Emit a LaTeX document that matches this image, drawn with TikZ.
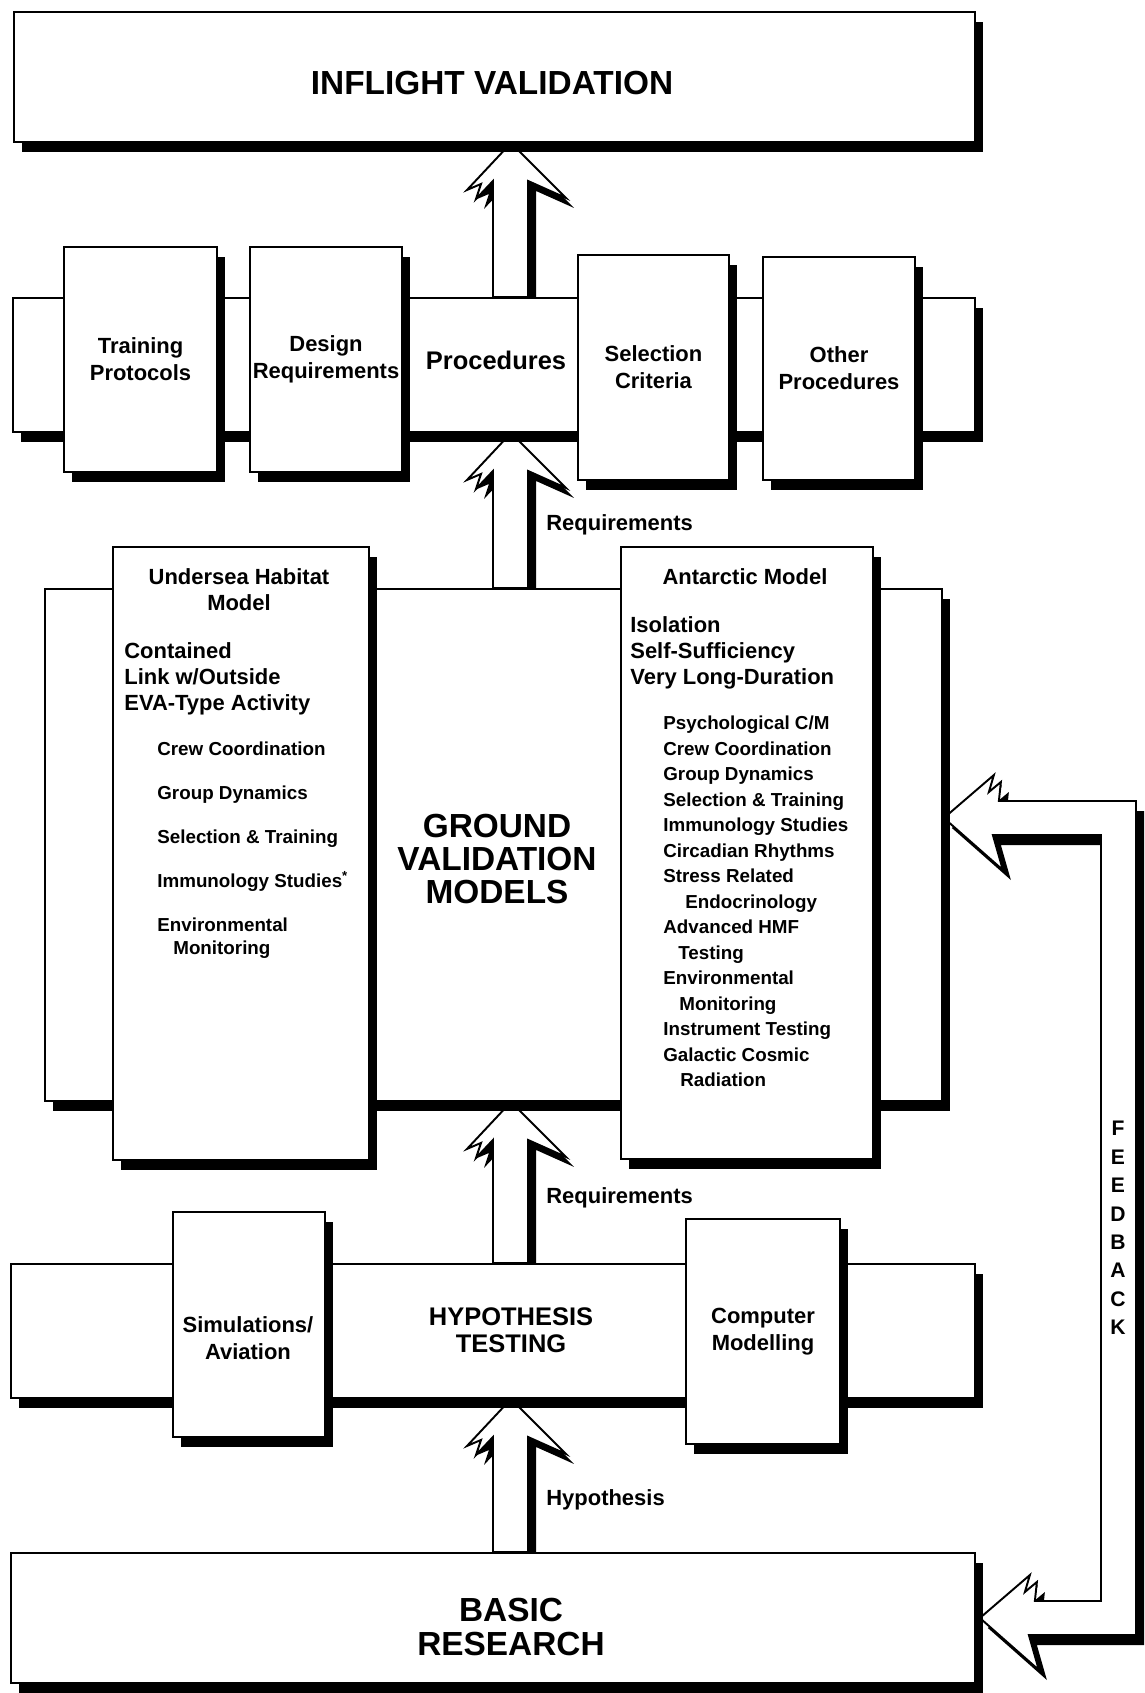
\documentclass[tikz,border=0pt]{standalone}
\usepackage{fontspec}
\setmainfont{Liberation Sans}
\usetikzlibrary{calc,shadows}

\pgfdeclarelayer{background}
\pgfsetlayers{background,main}

% hollow up-arrow: #1 = tip, #2 = lower left corner of the shaft
\newcommand{\fatup}[2]{%
  \draw[fatarrow] (#1) -- ++(55,55) -- ++(-38,-17) -- ($(#2)+(35,0)$) -- (#2)
    -- ($(#1)+(-18,38)$) -- ++(-17,18) -- ++(5,-15) -- ++(-14,6) -- cycle;}

\begin{document}
\begin{tikzpicture}[x=0.02cm, y=-0.02cm,
    blackshadow/.style={drop shadow={shadow xshift=0.16cm, shadow yshift=-0.2cm, fill=black, opacity=1}},
    box/.style={draw, fill=white, line width=1.1pt, inner sep=0pt, align=center, blackshadow,
      font={\fontsize{12.5}{15.4}\selectfont\bfseries}},
    fatarrow/.style={draw, fill=white, line width=1.1pt, line join=miter, blackshadow},
    txt/.style={inner sep=0pt, align=left, font={\fontsize{12.5}{14.8}\selectfont\bfseries}},
    smalltxt/.style={inner sep=0pt, align=left, font={\fontsize{10.7}{14.5}\selectfont\bfseries}},
    bigtxt/.style={inner sep=0pt, align=center, font={\fontsize{19}{19}\selectfont\bfseries}}]
    \useasboundingbox (0,0) rectangle (1145,1693);

    % top
    \node[box, minimum width=19.22cm, minimum height=2.6cm] (inflight) at (494.5,77) {};
    \node[bigtxt] (inflighttext) at (492,83) {INFLIGHT VALIDATION};

    % procedures row
    \node[box, minimum width=19.24cm, minimum height=2.68cm] (procband) at (494,365) {};
    \node[box, minimum width=3.06cm, minimum height=4.5cm] (training) at (140.5,359.5) {Training\\Protocols};
    \node[box, minimum width=3.04cm, minimum height=4.5cm] (design) at (326,359.5) {Design\\Requirements};
    \node[box, minimum width=3.02cm, minimum height=4.5cm] (selection) at (653.5,367.5) {Selection\\Criteria};
    \node[box, minimum width=3.04cm, minimum height=4.46cm] (other) at (839,368.5) {Other\\Procedures};
    \node[inner sep=0pt, font={\fontsize{14.5}{15.5}\selectfont\bfseries}] (procl) at (496,360) {Procedures};

    % ground validation row
    \node[box, minimum width=17.94cm, minimum height=10.24cm] (groundband) at (493.5,845) {};
    \node[box, minimum width=5.12cm, minimum height=12.26cm] (undersea) at (241,853.5) {};
    \node[box, minimum width=5.04cm, minimum height=12.24cm] (antarctic) at (747,853) {};
    \node[bigtxt] (gvm) at (497,859) {GROUND\\VALIDATION\\MODELS};

    \node[txt, align=center, anchor=north] (ustitle) at (239,568) {Undersea Habitat\\Model};
    \node[txt, anchor=north west] (uslist) at (124,642) {Contained\\Link w/Outside\\EVA-Type Activity};
    \node[smalltxt, anchor=north west, font={\fontsize{10.7}{13.1}\selectfont\bfseries}] (usitems) at (157,742)
      {Crew Coordination\\[11.9pt]Group Dynamics\\[11.9pt]Selection \& Training\\[11.9pt]%
       Immunology Studies\textsuperscript{*}\\[11.9pt]Environmental\\\hspace*{0.32cm}Monitoring};

    \node[txt, align=center, anchor=north] (antitle) at (745,568) {Antarctic Model};
    \node[txt, anchor=north west] (antlist) at (630,616) {Isolation\\Self-Sufficiency\\Very Long-Duration};
    \node[smalltxt, anchor=north west] (antitems) at (663,716)
      {Psychological C/M\\Crew Coordination\\Group Dynamics\\Selection \& Training\\%
       Immunology Studies\\Circadian Rhythms\\Stress Related\\\hspace*{0.44cm}Endocrinology\\%
       Advanced HMF\\\hspace*{0.3cm}Testing\\Environmental\\\hspace*{0.32cm}Monitoring\\%
       Instrument Testing\\Galactic Cosmic\\\hspace*{0.34cm}Radiation};

    % hypothesis row
    \node[box, minimum width=19.28cm, minimum height=2.68cm] (hypband) at (493,1331) {};
    \node[box, minimum width=3.04cm, minimum height=4.5cm] (simulations) at (249,1324.5) {};
    \node[box, minimum width=3.08cm, minimum height=4.5cm] (computer) at (763,1331.5) {Computer\\Modelling};
    \node[inner sep=0pt, align=center, font={\fontsize{12.5}{15.4}\selectfont\bfseries}] (simtext) at (248,1338) {Simulations/\\Aviation};
    \node[inner sep=0pt, align=center, font={\fontsize{14.5}{15.5}\selectfont\bfseries}] (hyptext) at (511,1330) {HYPOTHESIS\\TESTING};

    % bottom
    \node[box, minimum width=19.28cm, minimum height=2.6cm] (basic) at (493,1618) {};
    \node[bigtxt] (basictext) at (511,1627) {BASIC\\RESEARCH};

    % arrow labels
    \node[txt, anchor=west] (reqa) at (546,525) {Requirements};
    \node[txt, anchor=west] (reqb) at (546,1198) {Requirements};
    \node[txt, anchor=west] (hypl) at (546,1500) {Hypothesis};

    \coordinate (tipA) at (511,0 |- inflight.south);
    \coordinate (baseA) at (493,0 |- procband.north);
    \coordinate (tipB) at (511,0 |- procband.south);
    \coordinate (baseB) at (493,0 |- groundband.north);
    \coordinate (tipC) at (511,0 |- groundband.south);
    \coordinate (baseC) at (493,0 |- hypband.north);
    \coordinate (tipD) at (511,0 |- hypband.south);
    \coordinate (baseD) at (493,0 |- basic.north);

    \coordinate (fbtop) at ($(groundband.east)+(1,-27)$);
    \coordinate (fbbot) at ($(basic.east)+(4,0)$);
    \coordinate (fbo) at (1136,0 |- fbbot);
    \coordinate (fbi) at (1101,0 |- fbtop);

    \begin{pgfonlayer}{background}
      \fatup{tipA}{baseA}
      \fatup{tipB}{baseB}
      \fatup{tipC}{baseC}
      \fatup{tipD}{baseD}

      % feedback loop
      \draw[fatarrow] (fbtop) -- ++(50,-43) -- ++(-5,17) -- ++(12,-10) -- ++(-2,19) -| ($(fbo)+(0,17)$)
        -- ($(fbbot)+(49,17)$) -- ++(10,35) -- (fbbot) -- ++(50,-43) -- ++(-5,17) -- ++(12,-10) -- ++(-2,19)
        -| ($(fbi)+(0,17)$) -- ($(fbtop)+(49,17)$) -- ++(10,35) -- cycle;
    \end{pgfonlayer}

    \node[inner sep=0pt, align=center, font={\fontsize{12}{16.2}\selectfont\bfseries}] (fblabel) at (1118,1228) {F\\E\\E\\D\\B\\A\\C\\K};
  \end{tikzpicture}
\end{document}
